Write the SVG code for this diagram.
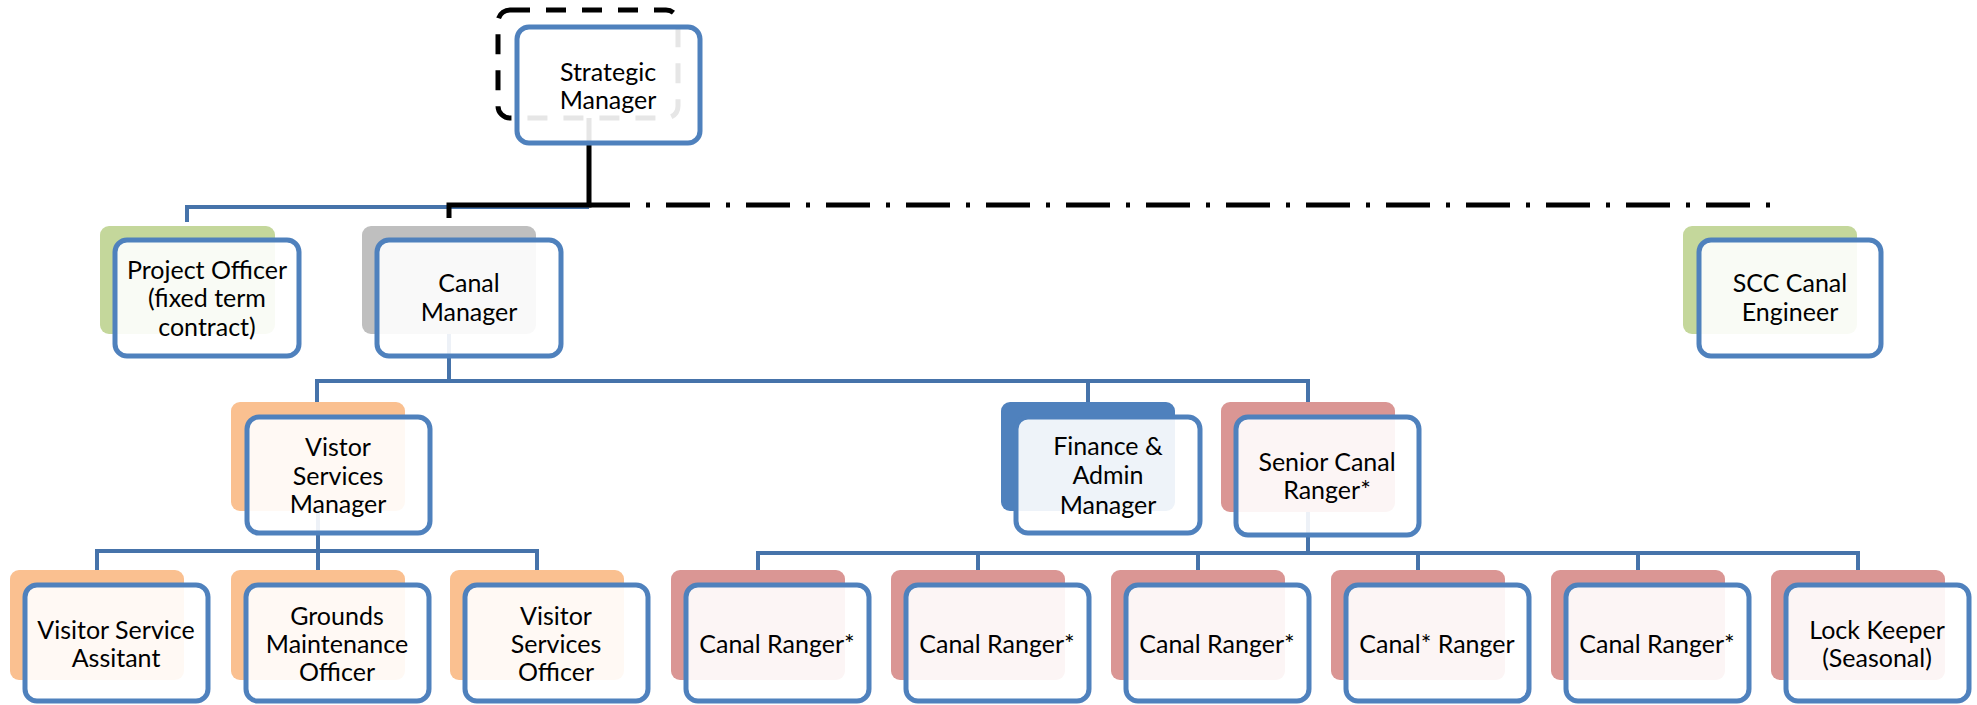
<svg xmlns="http://www.w3.org/2000/svg" width="1977" height="705" viewBox="0 0 1977 705">
<style>
.bg{stroke:none}
.green{fill:#c4d79b}
.gray{fill:#bfbfbf}
.orange{fill:#fac090}
.red{fill:#da9694}
.blue{fill:#4f81bd}
.dashbox{fill:none;stroke:#000;stroke-width:5;stroke-dasharray:20 16}
.front{fill:#fff;fill-opacity:0.9;stroke:#4f81bd;stroke-width:5}
.conn{fill:none;stroke:#4673aa;stroke-width:4}
.blk{fill:none;stroke:#000;stroke-width:5}
.dd{fill:none;stroke:#000;stroke-width:5;stroke-dasharray:44 16 4 16;stroke-dashoffset:3}
text{font-family:Lato,"Liberation Sans",sans-serif;font-size:25px;fill:#000;text-anchor:middle}
</style>
<g id="connectors">
<path class="conn" d="M187,222 V207 H589"/>
<path class="conn" d="M449,334 V381 H317 V402 M449,381 H1308 V402 M1088,381 V402"/>
<path class="conn" d="M318,511 V551 H97 V570 M318,551 H537 V570 M318,551 V570"/>
<path class="conn" d="M1308,511 V553 H758 V570 M1308,553 H1858 V570 M978,553 V570 M1198,553 V570 M1418,553 V570 M1638,553 V570"/>
<path class="blk" d="M589,118 V205 H449 V218"/>
<path class="dd" d="M589,205 H1770"/>
</g>
<g id="strategic-manager">
<rect class="dashbox" x="498" y="10" width="180" height="108" rx="12"/>
<rect class="front" x="517" y="27" width="183" height="116" rx="12"/>
<text x="608" y="81">Strategic</text>
<text x="608" y="109">Manager</text>
</g>
<g id="project-officer">
<rect class="bg green" x="100" y="226" width="175" height="108" rx="9"/>
<rect class="front" x="115" y="240" width="184" height="116" rx="12"/>
<text x="207" y="279">Project Officer</text>
<text x="207" y="307">(fixed term</text>
<text x="207" y="336">contract)</text>
</g>
<g id="canal-manager">
<rect class="bg gray" x="362" y="226" width="174" height="108" rx="9"/>
<rect class="front" x="377" y="240" width="184" height="116" rx="12"/>
<text x="469" y="292">Canal</text>
<text x="469" y="321">Manager</text>
</g>
<g id="scc-canal-engineer">
<rect class="bg green" x="1683" y="226" width="174" height="108" rx="9"/>
<rect class="front" x="1699" y="240" width="182" height="116" rx="12"/>
<text x="1790" y="292">SCC Canal</text>
<text x="1790" y="321">Engineer</text>
</g>
<g id="visitor-services-manager">
<rect class="bg orange" x="231" y="402" width="174" height="109" rx="9"/>
<rect class="front" x="247" y="417" width="183" height="116" rx="12"/>
<text x="338" y="456">Vistor</text>
<text x="338" y="485">Services</text>
<text x="338" y="513">Manager</text>
</g>
<g id="finance-admin-manager">
<rect class="bg blue" x="1001" y="402" width="174" height="109" rx="9"/>
<rect class="front" x="1016" y="417" width="184" height="116" rx="12"/>
<text x="1108" y="455">Finance &amp;</text>
<text x="1108" y="484">Admin</text>
<text x="1108" y="514">Manager</text>
</g>
<g id="senior-canal-ranger">
<rect class="bg red" x="1221" y="402" width="174" height="110" rx="9"/>
<rect class="front" x="1236" y="417" width="183" height="118" rx="12"/>
<text x="1327" y="471">Senior Canal</text>
<text x="1327" y="499">Ranger*</text>
</g>
<g id="visitor-service-assistant">
<rect class="bg orange" x="10" y="570" width="174" height="110" rx="9"/>
<rect class="front" x="25" y="585" width="183" height="116" rx="12"/>
<text x="116" y="639">Visitor Service</text>
<text x="116" y="667">Assitant</text>
</g>
<g id="grounds-maintenance-officer">
<rect class="bg orange" x="231" y="570" width="174" height="110" rx="9"/>
<rect class="front" x="246" y="585" width="183" height="116" rx="12"/>
<text x="337" y="625">Grounds</text>
<text x="337" y="653">Maintenance</text>
<text x="337" y="681">Officer</text>
</g>
<g id="visitor-services-officer">
<rect class="bg orange" x="450" y="570" width="174" height="110" rx="9"/>
<rect class="front" x="465" y="585" width="183" height="116" rx="12"/>
<text x="556" y="625">Visitor</text>
<text x="556" y="653">Services</text>
<text x="556" y="681">Officer</text>
</g>
<g id="canal-ranger-1">
<rect class="bg red" x="671" y="570" width="174" height="110" rx="9"/>
<rect class="front" x="686" y="585" width="183" height="116" rx="12"/>
<text x="777" y="653">Canal Ranger*</text>
</g>
<g id="canal-ranger-2">
<rect class="bg red" x="891" y="570" width="174" height="110" rx="9"/>
<rect class="front" x="906" y="585" width="183" height="116" rx="12"/>
<text x="997" y="653">Canal Ranger*</text>
</g>
<g id="canal-ranger-3">
<rect class="bg red" x="1111" y="570" width="174" height="110" rx="9"/>
<rect class="front" x="1126" y="585" width="183" height="116" rx="12"/>
<text x="1217" y="653">Canal Ranger*</text>
</g>
<g id="canal-ranger-4">
<rect class="bg red" x="1331" y="570" width="174" height="110" rx="9"/>
<rect class="front" x="1346" y="585" width="183" height="116" rx="12"/>
<text x="1437" y="653">Canal* Ranger</text>
</g>
<g id="canal-ranger-5">
<rect class="bg red" x="1551" y="570" width="174" height="110" rx="9"/>
<rect class="front" x="1566" y="585" width="183" height="116" rx="12"/>
<text x="1657" y="653">Canal Ranger*</text>
</g>
<g id="lock-keeper">
<rect class="bg red" x="1771" y="570" width="174" height="110" rx="9"/>
<rect class="front" x="1786" y="585" width="183" height="116" rx="12"/>
<text x="1877" y="639">Lock Keeper</text>
<text x="1877" y="667">(Seasonal)</text>
</g>
</svg>
